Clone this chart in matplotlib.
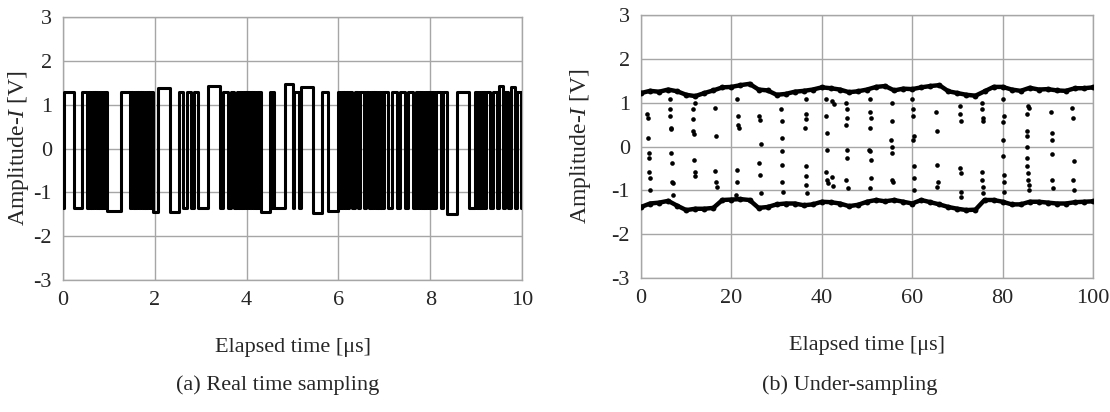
import numpy as np
import matplotlib
matplotlib.use('Agg')
import matplotlib.pyplot as plt

plt.rcParams['font.family'] = 'Liberation Serif'
plt.rcParams['mathtext.fontset'] = 'custom'
plt.rcParams['mathtext.rm'] = 'Liberation Serif'
plt.rcParams['mathtext.it'] = 'Liberation Serif:italic'
plt.rcParams['axes.unicode_minus'] = False

# ===== (a) real time sampling: level flips (us), signal starts low =====
edges_a = [0.01, 0.24, 0.41, 0.52,
           0.56, 0.59, 0.62, 0.65, 0.68, 0.71, 0.74, 0.77, 0.80, 0.83, 0.86, 0.89, 0.92, 0.95,
           1.26, 1.46, 1.49,
           1.53, 1.56, 1.59, 1.62, 1.65, 1.68, 1.71, 1.74, 1.77, 1.80, 1.83, 1.86, 1.89, 1.92, 1.95,
           2.07, 2.33, 2.53, 2.62, 2.70, 2.78, 2.86, 2.93,
           3.15, 3.41, 3.48, 3.60, 3.65, 3.72,
           3.79, 3.82, 3.85, 3.88, 3.91, 3.94, 3.97, 4.00, 4.04, 4.07, 4.10, 4.13, 4.16, 4.19,
           4.22, 4.25, 4.28, 4.31,
           4.51, 4.54, 4.57, 4.60,
           4.84, 5.00, 5.04, 5.13, 5.18, 5.45, 5.64, 5.77, 5.99,
           6.02, 6.05, 6.08, 6.11, 6.14, 6.17, 6.20, 6.23,
           6.30, 6.36, 6.42, 6.47, 6.55, 6.60, 6.66, 6.70,
           6.73, 6.76, 6.79, 6.82, 6.85, 6.88, 6.91, 6.94, 6.97, 7.00,
           7.08, 7.17, 7.27, 7.35, 7.45, 7.52, 7.62, 7.68,
           7.73, 7.76, 7.79, 7.82, 7.85, 7.88, 7.91, 7.94, 7.97, 8.00, 8.03, 8.06, 8.09, 8.12,
           8.24, 8.28, 8.37, 8.58, 8.85, 8.98,
           9.01, 9.04, 9.07, 9.10, 9.13, 9.16, 9.19, 9.22,
           9.30, 9.36, 9.45, 9.50, 9.58, 9.63, 9.70, 9.76, 9.84, 9.89, 9.97]
HI_A, LO_A = 1.30, -1.35
# segments whose level differs from the usual one (segment start, level)
fix_t = [0.01, 0.95, 1.95, 2.07, 2.33, 3.15, 4.31, 4.84, 5.18, 5.45, 5.77, 8.37, 9.50, 9.76]
fix_v = [1.28, -1.42, -1.45, 1.38, -1.45, 1.42, -1.45, 1.48, 1.40, -1.48, -1.42, -1.50, 1.42, 1.40]

# ===== (b) under-sampling =====
band_t = list(range(0, 101, 2))
upper_v = [1.22, 1.27, 1.25, 1.30, 1.26, 1.18, 1.15, 1.22, 1.28, 1.35, 1.36, 1.40, 1.43, 1.30,
           1.28, 1.18, 1.20, 1.25, 1.27, 1.30, 1.35, 1.33, 1.30, 1.24, 1.26, 1.30, 1.36, 1.38,
           1.28, 1.32, 1.31, 1.35, 1.38, 1.40, 1.26, 1.22, 1.18, 1.16, 1.26, 1.36, 1.36, 1.30,
           1.27, 1.34, 1.30, 1.31, 1.28, 1.27, 1.33, 1.33, 1.35]
lower_v = [-1.38, -1.30, -1.28, -1.24, -1.35, -1.45, -1.42, -1.42, -1.40, -1.22, -1.21, -1.20,
           -1.22, -1.40, -1.38, -1.32, -1.30, -1.30, -1.34, -1.32, -1.26, -1.27, -1.30, -1.36,
           -1.33, -1.26, -1.22, -1.25, -1.22, -1.26, -1.30, -1.22, -1.27, -1.32, -1.38, -1.42,
           -1.45, -1.44, -1.22, -1.22, -1.26, -1.32, -1.32, -1.26, -1.26, -1.28, -1.30, -1.30,
           -1.27, -1.26, -1.25]
# samples caught during a transition
trans_t = [1.4, 1.5, 1.6, 1.7, 1.7, 1.8, 1.9, 2.0,
           6.3, 6.4, 6.5, 6.6, 6.7, 6.7, 6.8, 6.9, 7.0, 7.1,
           12.0, 11.4, 11.5, 11.6, 11.8, 11.7, 11.9, 12.0,
           16.4, 16.5, 16.4, 16.6, 16.7,
           21.3, 21.4, 21.5, 21.6, 21.2, 21.3, 21.1,
           26.1, 26.3, 26.5, 26.2, 26.4, 26.6,
           31.0, 31.1, 31.1, 31.2, 31.2, 31.3, 31.4,
           36.6, 36.5, 36.4, 36.3, 36.4, 36.5, 36.6, 36.8,
           41.0, 41.0, 41.1, 41.1, 41.0, 41.2, 41.3,
           42.3, 42.6, 42.2, 42.5,
           45.4, 45.5, 45.6, 45.3, 45.5, 45.6, 45.4, 45.7,
           50.6, 50.7, 50.8, 50.6, 50.5, 50.7, 50.8, 50.9, 50.7,
           55.6, 55.5, 55.4, 55.6, 55.5, 55.6, 55.7,
           60.0, 60.1, 60.2, 60.3, 60.2, 60.4, 60.3, 60.5,
           65.3, 65.4, 65.5, 65.6, 65.5,
           70.5, 70.6, 70.7, 70.6, 70.7, 70.8, 70.9,
           75.5, 75.4, 75.6, 75.7, 75.4, 75.5, 75.6, 75.7,
           80.1, 80.2, 80.1, 80.0, 80.1, 80.2, 80.3, 80.4,
           85.6, 85.8, 85.5, 85.4, 85.5, 85.3, 85.4, 85.5, 85.6, 85.7, 85.8, 85.9,
           90.8, 90.9, 91.0, 90.9, 91.0, 91.1,
           95.4, 95.6, 95.7, 95.6, 95.8]
trans_v = [0.74, 0.66, 0.20, -0.15, -0.26, -0.57, -0.72, -0.99,
           1.08, 0.85, 0.70, 0.43, 0.39, -0.15, -0.38, -0.80, -0.84, -1.11,
           1.00, 0.85, 0.62, 0.35, 0.28, -0.30, -0.57, -0.68,
           0.89, 0.24, -0.55, -0.80, -0.92,
           1.08, 0.70, 0.48, 0.43, -0.53, -0.80, -1.11,
           0.70, 0.60, 0.05, -0.38, -0.65, -1.07,
           0.85, 0.58, 0.20, -0.11, -0.42, -0.80, -1.03,
           1.08, 0.74, 0.62, 0.43, -0.45, -0.68, -0.88, -1.07,
           1.08, 0.70, 0.32, -0.07, -0.57, -0.76, -0.84,
           1.04, 0.98, -0.70, -0.90,
           1.00, 0.85, 0.66, 0.48, -0.07, -0.26, -0.76, -0.95,
           1.08, 0.78, 0.66, 0.43, -0.07, -0.11, -0.30, -0.72, -0.95,
           1.00, 0.58, 0.16, 0.00, -0.15, -0.76, -0.80,
           1.08, 0.85, 0.70, 0.24, 0.16, -0.45, -0.72, -0.99,
           0.78, 0.35, -0.42, -0.80, -0.92,
           0.93, 0.74, 0.58, -0.49, -0.61, -1.03, -1.15,
           1.00, 0.85, 0.66, 0.58, -0.57, -0.76, -0.92, -1.07,
           1.08, 0.70, 0.55, 0.16, -0.22, -0.65, -0.80, -1.03,
           0.93, 0.89, 0.74, 0.35, 0.24, 0.00, -0.26, -0.45, -0.61, -0.76, -0.88, -0.99,
           0.78, 0.32, 0.16, -0.18, -0.76, -0.95,
           0.89, 0.66, -0.34, -0.76, -0.99]

XLABEL = 'Elapsed time [\u03bcs]'
YLABEL = 'Amplitude-$I$ [V]'
CAPTIONS = ['(a) Real time sampling', '(b) Under-sampling']
FS = 16
TXT = '#262626'

fig = plt.figure(figsize=(11.10, 4.12), dpi=100)
ax_a = fig.add_axes([0.0568, 0.3204, 0.4135, 0.6383])
ax_b = fig.add_axes([0.5775, 0.3252, 0.4072, 0.6383])

# --- build the step trace for (a)
bounds = np.r_[0.0, edges_a, 10.0]
lv = np.where(np.arange(len(bounds) - 1) % 2 == 0, LO_A, HI_A)
for t, v in zip(fix_t, fix_v):
    lv[np.argmin(np.abs(bounds[:-1] - t))] = v
xs = np.repeat(bounds, 2)[1:-1]
ys = np.repeat(lv, 2)
ax_a.plot(xs, ys, color='black', lw=2.2, solid_joinstyle='round', zorder=3)
ax_a.set_xlim(0, 10)
ax_a.set_xticks(range(0, 11, 2))

# --- (b) dots
for band in (upper_v, lower_v):
    ax_b.plot(band_t, band, color='black', lw=3.2, zorder=3)
    ax_b.scatter(band_t, band, s=18, color='black', lw=0, zorder=3)
ax_b.scatter(trans_t, trans_v, s=11, color='black', lw=0, zorder=3)
ax_b.set_xlim(0, 100)
ax_b.set_xticks(range(0, 101, 20))

for ax, cap, cx, lx in zip([ax_a, ax_b], CAPTIONS, [278, 850], [-0.070, -0.106]):
    ax.set_ylim(-3, 3)
    ax.set_yticks(range(-3, 4))
    ax.grid(True, color='#a6a6a6', lw=1.0)
    ax.set_axisbelow(True)
    for sp in ax.spines.values():
        sp.set_color('#a6a6a6')
        sp.set_linewidth(1.0)
    ax.tick_params(length=0, labelsize=FS, colors=TXT, pad=8)
    ax.set_xlabel(XLABEL, fontsize=FS, color=TXT, labelpad=20)
    ax.set_ylabel(YLABEL, fontsize=17, color=TXT)
    ax.yaxis.set_label_coords(lx, 0.5)
    fig.text(cx / 1110, 1 - 385 / 412, cap, fontsize=FS, color=TXT,
             ha='center', va='center')

fig.savefig('out.png', dpi=100)
